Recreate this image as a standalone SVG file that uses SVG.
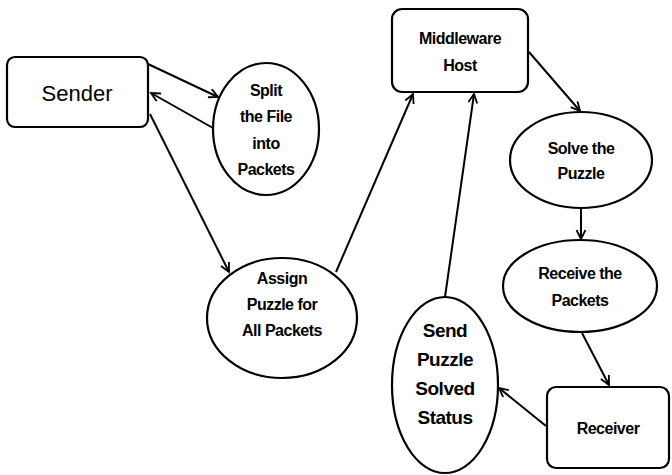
<svg xmlns="http://www.w3.org/2000/svg" width="672" height="475" viewBox="0 0 672 475">
<style>
.shape{fill:#fff;stroke:#000;stroke-width:2.2}
.lbl{font-family:"Liberation Sans",Arial,sans-serif;font-weight:bold;font-size:16px;text-anchor:middle;fill:#000;letter-spacing:-0.5px}
.big{font-size:19px}
.plain{font-weight:normal;font-size:22px;letter-spacing:0}
.conn line{stroke:#000;stroke-width:2;marker-end:url(#arr)}
</style>
<defs>
<marker id="arr" markerWidth="12" markerHeight="12" refX="10" refY="5" orient="auto" markerUnits="userSpaceOnUse">
<path d="M1,0.5 L10,5 L1,9.5" fill="none" stroke="#000" stroke-width="1.8"/>
</marker>
</defs>
<rect width="672" height="475" fill="#fff"/>
<g id="sender"><rect class="shape" x="7" y="57" width="141" height="70" rx="8"/><text class="lbl plain" x="77" y="101">Sender</text></g>
<g id="split"><ellipse class="shape" cx="266" cy="129" rx="53" ry="66"/>
<text class="lbl" x="266" y="96">Split</text><text class="lbl" x="266" y="122">the File</text><text class="lbl" x="266" y="149">into</text><text class="lbl" x="266" y="175">Packets</text></g>
<g id="assign"><ellipse class="shape" cx="282" cy="318" rx="75" ry="60"/>
<text class="lbl" x="282" y="284">Assign</text><text class="lbl" x="282" y="310">Puzzle for</text><text class="lbl" x="282" y="336">All Packets</text></g>
<g id="middleware"><rect class="shape" x="392" y="9" width="136" height="83" rx="10"/>
<text class="lbl" x="460" y="44">Middleware</text><text class="lbl" x="460" y="71">Host</text></g>
<g id="solve"><ellipse class="shape" cx="581" cy="160" rx="71" ry="48"/>
<text class="lbl" x="581" y="154">Solve the</text><text class="lbl" x="581" y="179">Puzzle</text></g>
<g id="receive"><ellipse class="shape" cx="580" cy="286" rx="77" ry="46"/>
<text class="lbl" x="580" y="279">Receive the</text><text class="lbl" x="580" y="306">Packets</text></g>
<g id="receiver"><rect class="shape" x="547" y="387" width="122" height="81" rx="9"/>
<text class="lbl" x="608" y="434">Receiver</text></g>
<g id="send"><ellipse class="shape" cx="445" cy="385" rx="53" ry="88"/>
<text class="lbl big" x="445" y="337">Send</text><text class="lbl big" x="445" y="366">Puzzle</text><text class="lbl big" x="445" y="395">Solved</text><text class="lbl big" x="445" y="424">Status</text></g>
<g class="conn" id="connectors">
<line x1="148" y1="64" x2="218" y2="97"/>
<line x1="213" y1="128" x2="151" y2="93"/>
<line x1="150" y1="114" x2="229" y2="272"/>
<line x1="336" y1="272" x2="413" y2="94"/>
<line x1="445" y1="297" x2="474" y2="94"/>
<line x1="529" y1="52" x2="580" y2="111"/>
<line x1="581" y1="208" x2="581" y2="239"/>
<line x1="582" y1="333" x2="609" y2="385"/>
<line x1="546" y1="426" x2="499" y2="388"/>
</g>
</svg>
